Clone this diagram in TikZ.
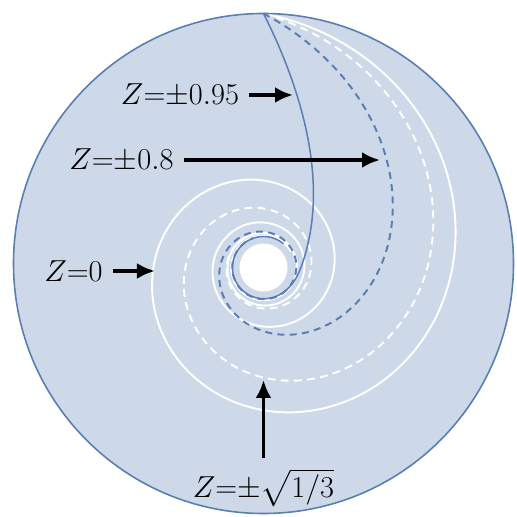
\documentclass[tikz,border=0pt]{standalone}
\usepackage{amsmath}
\usepackage{tikz}
\usetikzlibrary{arrows.meta}
\definecolor{diskfill}{HTML}{CDD9E9}
\definecolor{rimblue}{HTML}{5B7DB3}

\begin{document}
\begin{tikzpicture}[
    zlabel/.style={font=\LARGE,inner sep=0.2cm},
    zarrow/.style={-{Latex[length=3.6mm,width=3.2mm]},line width=2.2pt,black},
  ]
    \useasboundingbox (-5.27,-5.07) rectangle (5.05,5.27);
    \fill[diskfill] (0,0) circle (5);
    \begin{scope}[shift={(0,-0.08)}]
      \fill[white] (0,0) circle (0.48);
      % Z = 0
      \draw[white,line width=1.1pt]
        plot[domain=0:1500,samples=400,smooth] ({90-\x}:{0.62+4.46*exp(-0.22*rad(\x))});
      % Z = +-sqrt(1/3)
      \draw[white,line width=1.1pt,dash pattern=on 4.5pt off 3pt]
        plot[domain=0:1100,samples=320,smooth] ({90-\x}:{0.62+4.46*exp(-0.33*rad(\x))});
      % Z = +-0.8
      \draw[rimblue,line width=1.1pt,dash pattern=on 4pt off 3pt]
        plot[domain=0:700,samples=240,smooth] ({90-\x}:{0.62+4.46*exp(-0.61*rad(\x))});
      % Z = +-0.95
      \draw[rimblue,line width=0.85pt]
        plot[domain=0:400,samples=200,smooth] ({90-\x}:{0.62+4.46*exp(-2.26*rad(\x))});
    \end{scope}
    \draw[rimblue,line width=0.9pt] (0,0) circle (5);

    \coordinate (tip95) at (0.59,3.37);
    \coordinate (tip80) at (2.33,2.07);
    \coordinate (tip0) at (-2.17,-0.15);
    \coordinate (tipsq) at (0,-2.33);

    \node[zlabel] (l95) at (-1.67,3.37) {$Z{=}{\pm}0.95$};
    \node[zlabel] (l80) at (-2.84,2.07) {$Z{=}{\pm}0.8$};
    \node[zlabel] (l0) at (-3.8,-0.15) {$Z{=}0$};
    \node[zlabel,anchor=base] (lsq) at (0,-4.67) {$Z{=}{\pm}\sqrt{1/3}$};

    \draw[zarrow] (l95.east) -- (tip95);
    \draw[zarrow] (l80.east) -- (tip80);
    \draw[zarrow] (l0.east) -- (tip0);
    \draw[zarrow] (lsq.north) -- (tipsq);
\end{tikzpicture}
\end{document}
